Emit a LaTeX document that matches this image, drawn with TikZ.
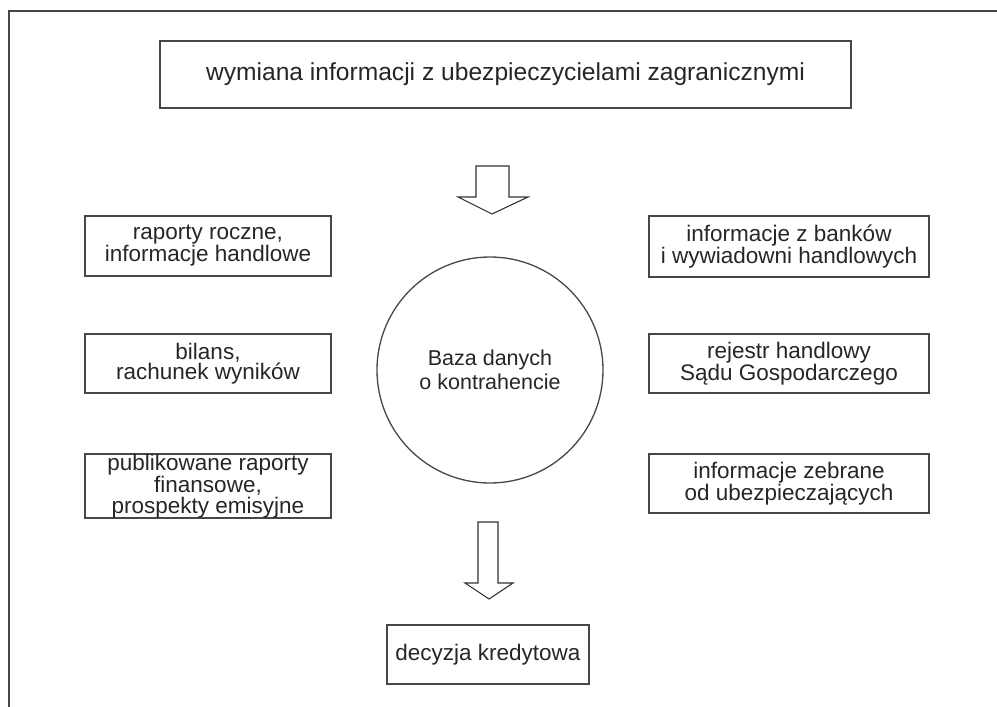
\documentclass[tikz,border=0pt]{standalone}
\usepackage{fontspec}
\setmainfont{Liberation Sans}
\begin{document}
\begin{tikzpicture}[x=1pt,y=-1pt,
  linec/.style={draw=black!72, line width=1.3pt},
  infobox/.style={linec, rectangle, inner sep=0pt, align=center, text=black!85,
    font=\fontsize{22.5}{20.5}\selectfont},
  bigarrow/.style={draw=black!80, line width=1.1pt, fill=white, line join=miter}]
\useasboundingbox (0,0) rectangle (997,707);
% frame
\draw[linec] (9,707) -- (9,11) -- (997,11);
% top box
\node[infobox, font=\fontsize{24.6}{26}\selectfont, minimum width=691pt, minimum height=67pt] (top) at (505.5,74.5)
  {wymiana informacji z ubezpieczycielami zagranicznymi};
% circle
\node[linec, circle, minimum size=226pt, inner sep=0pt, align=center, text=black!85,
  font=\fontsize{21.5}{24}\selectfont] (db) at (490,370) {Baza danych\\o kontrahencie};
% left boxes
\node[infobox, minimum width=246pt, minimum height=60pt] (l1) at (208,246)
  {raporty roczne,\\informacje handlowe};
\node[infobox, minimum width=246pt, minimum height=59pt] (l2) at (208,363.5)
  {bilans,\\rachunek wyników};
\node[infobox, minimum width=246pt, minimum height=64pt] (l3) at (208,486)
  {publikowane raporty\\finansowe,\\prospekty emisyjne};
% right boxes
\node[infobox, minimum width=280pt, minimum height=61pt] (r1) at (789,246.5)
  {informacje z banków\\i wywiadowni handlowych};
\node[infobox, minimum width=280pt, minimum height=59pt] (r2) at (789,363.5)
  {rejestr handlowy\\Sądu Gospodarczego};
\node[infobox, minimum width=280pt, minimum height=59pt] (r3) at (789,483.5)
  {informacje zebrane\\od ubezpieczających};
% bottom box
\node[infobox, minimum width=202pt, minimum height=59pt] (dec) at (488,654.5)
  {decyzja kredytowa};
% arrows
\draw[bigarrow] (476,166) -- (509,166) -- (509,197) -- (528,197) -- (492,214)
  -- (458,197) -- (476,197) -- cycle;
\draw[bigarrow] (478,522) -- (498,522) -- (498,583) -- (513,583) -- (489,599)
  -- (465,583) -- (478,583) -- cycle;
\end{tikzpicture}
\end{document}
